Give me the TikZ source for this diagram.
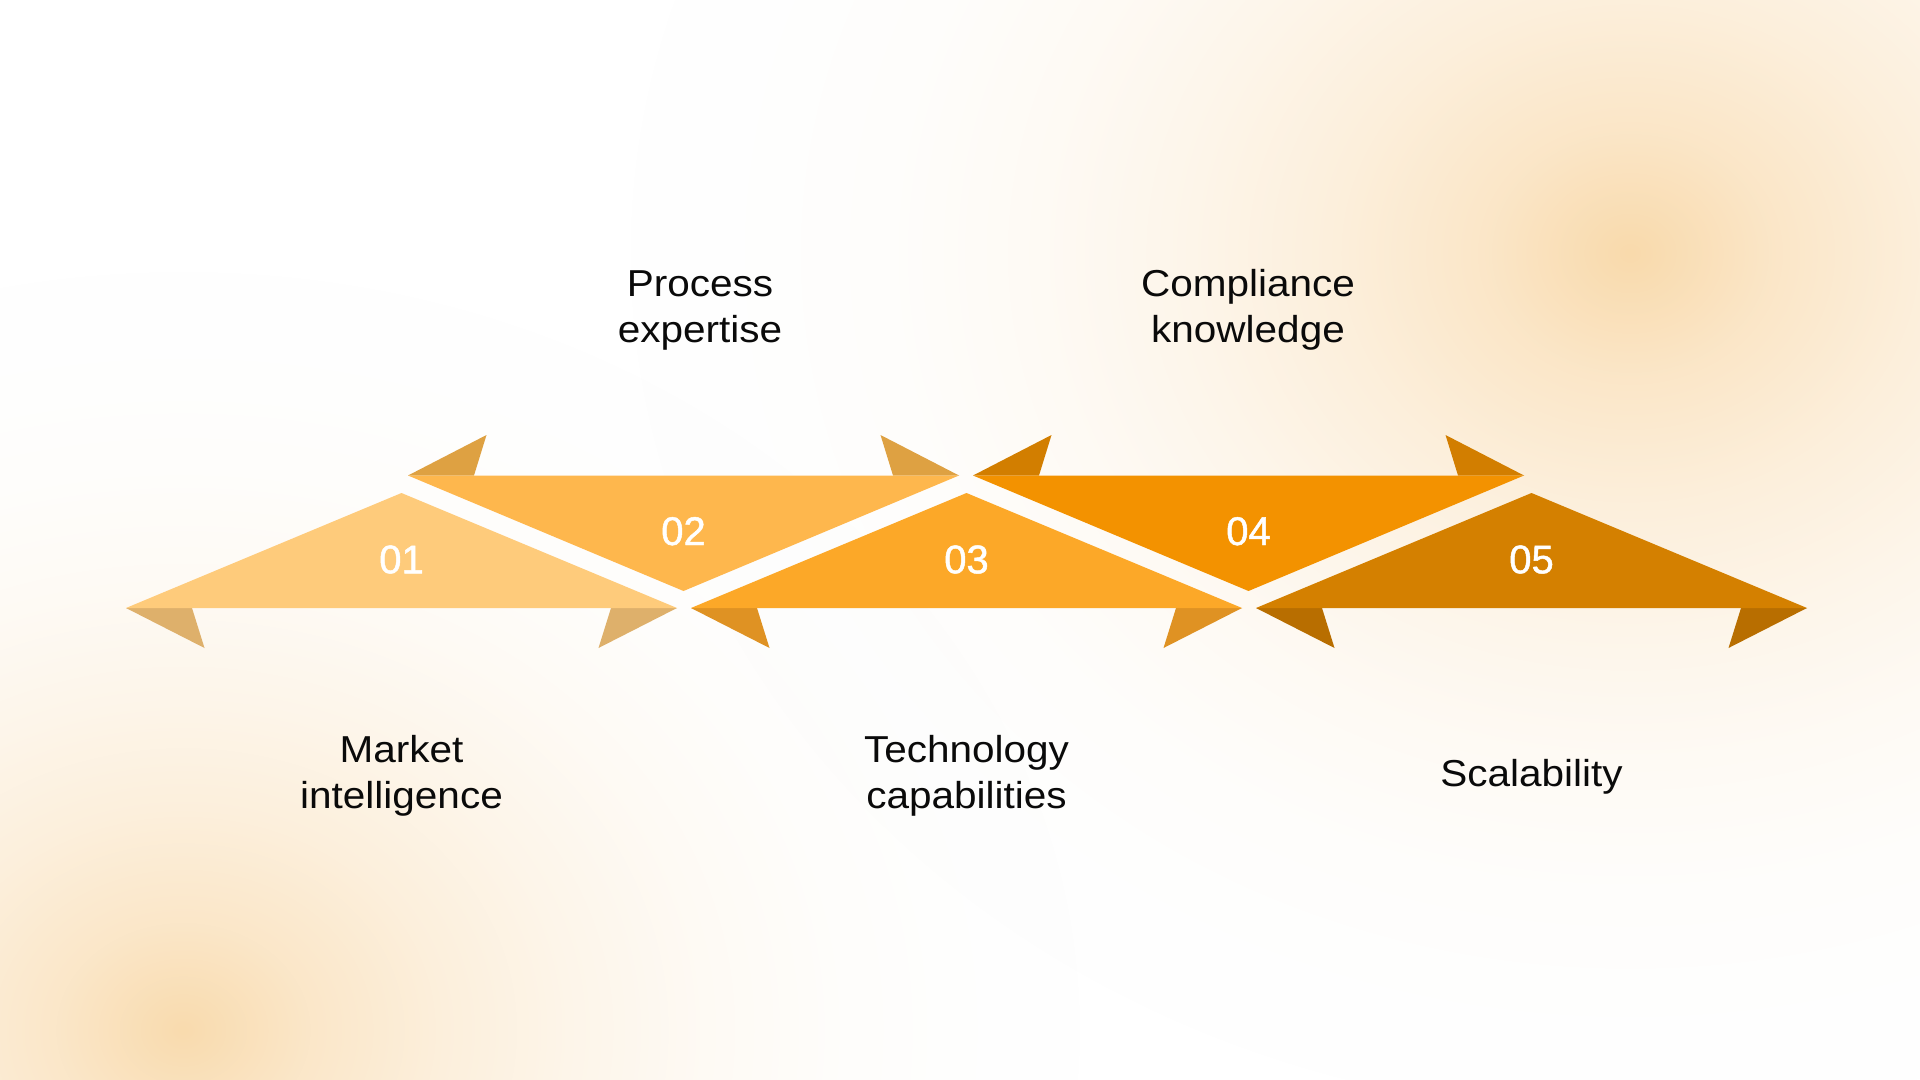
\documentclass[tikz,border=0pt]{standalone}
\usepackage{fontspec}
\setmainfont{Liberation Sans}[FakeStretch=1.08]
\newfontfamily\numfont{Liberation Sans}[FakeBold=1.2]
\usetikzlibrary{fadings}
\definecolor{bodyA}{HTML}{FECB7B}
\definecolor{tailA}{HTML}{DEB06B}
\definecolor{bodyB}{HTML}{FEB74D}
\definecolor{tailB}{HTML}{DEA142}
\definecolor{bodyC}{HTML}{FCA828}
\definecolor{tailC}{HTML}{DF9223}
\definecolor{bodyD}{HTML}{F39200}
\definecolor{tailD}{HTML}{D27E00}
\definecolor{bodyE}{HTML}{D48000}
\definecolor{tailE}{HTML}{B86E00}
\definecolor{glowA}{HTML}{F9DAAC}
\definecolor{glowB}{HTML}{F9DBAE}
\definecolor{textc}{HTML}{0A0A0A}
\pgfdeclareradialshading{glowshade}{\pgfpoint{0bp}{0bp}}{color(0bp)=(white); color(2.5bp)=(white!66!black); color(5bp)=(white!43!black); color(7.5bp)=(white!26!black); color(10bp)=(white!13!black); color(12.5bp)=(white!5!black); color(15bp)=(white!1.5!black); color(17.5bp)=(black); color(50bp)=(black)}
\pgfdeclarefading{softglow}{\pgfuseshading{glowshade}}
\newcommand\ribdown[3]{%
  \fill[#3] (#1,608) -- (#1+66,608) -- (#1+78.5,648) -- cycle;
  \fill[#3] (#1+551,608) -- (#1+485,608) -- (#1+472.5,648) -- cycle;
  \fill[#2] (#1,608) -- (#1+275.5,493) -- (#1+551,608) -- cycle;}
\newcommand\ribup[3]{%
  \fill[#3] (#1,475.5) -- (#1+66,475.5) -- (#1+78.5,435) -- cycle;
  \fill[#3] (#1+551,475.5) -- (#1+485,475.5) -- (#1+472.5,435) -- cycle;
  \fill[#2] (#1,475.5) -- (#1+551,475.5) -- (#1+275.5,591) -- cycle;}
\tikzset{
  lbl/.style={anchor=base, inner sep=0pt, text=textc, font=\fontsize{18.75pt}{22pt}\selectfont},
  num/.style={anchor=base, inner sep=0pt, text=white, font=\numfont\fontsize{20pt}{24pt}\selectfont}
}
\begin{document}
\begin{tikzpicture}[x=0.5pt,y=-0.5pt]
\useasboundingbox (0,0) rectangle (1920,1080);
\fill[white] (0,0) rectangle (1920,1080);
\begin{scope}
  \clip (0,0) rectangle (1920,1080);
  \fill[glowA, path fading=softglow] (1630,253) ellipse [x radius=1450, y radius=1250];
  \fill[glowB, path fading=softglow] (183,1030) ellipse [x radius=1300, y radius=1100];
\end{scope}
\ribdown{126}{bodyA}{tailA}
\ribup{408}{bodyB}{tailB}
\ribdown{691}{bodyC}{tailC}
\ribup{973}{bodyD}{tailD}
\ribdown{1256}{bodyE}{tailE}
\node[num] (n1) at (401.5,573.3) {01};
\node[num] (n2) at (683.5,545) {02};
\node[num] (n3) at (966.5,573.3) {03};
\node[num] (n4) at (1248.5,545) {04};
\node[num] (n5) at (1531.5,573.3) {05};
\node[lbl] (t2a) at (700,296.7) {Process};
\node[lbl] (t2b) at (700,342.7) {expertise};
\node[lbl] (t4a) at (1248,296.7) {Compliance};
\node[lbl] (t4b) at (1248,342.7) {knowledge};
\node[lbl] (t1a) at (401.5,762.7) {Market};
\node[lbl] (t1b) at (401.5,808.3) {intelligence};
\node[lbl] (t3a) at (966.5,762.7) {Technology};
\node[lbl] (t3b) at (966.5,808.3) {capabilities};
\node[lbl] (t5) at (1531.5,786.7) {Scalability};
\end{tikzpicture}
\end{document}
